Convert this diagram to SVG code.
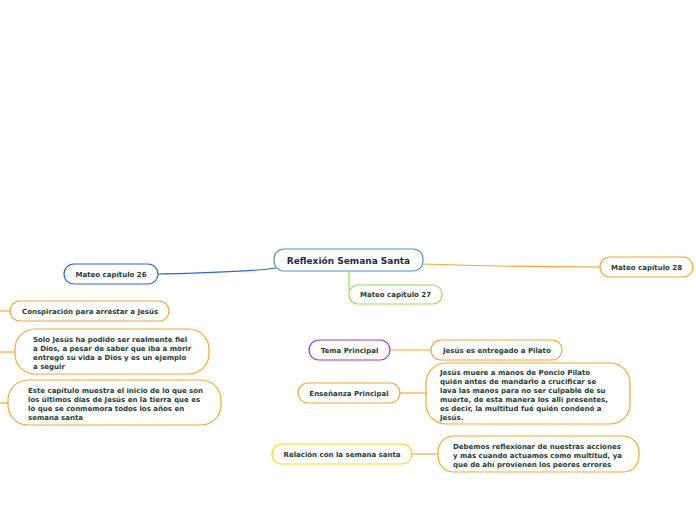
<svg xmlns="http://www.w3.org/2000/svg" width="696" height="520" viewBox="0 0 696 520">
<style>
rect{fill:#fff;stroke-width:1.2}
text{font-family:"DejaVu Sans",Verdana,sans-serif;font-weight:bold;font-size:7px;fill:#1d3d32}
.c{text-anchor:middle}
.t{font-size:9px;fill:#1b2a4a}
.o{stroke:#f8a62a}
.l{fill:none;stroke-width:1.2}
</style>
<rect width="696" height="520" fill="#fff" style="stroke:none"/>
<g id="connectors" fill="none">
<path class="l" d="M158,274 C200,273 250,272 276,268" stroke="#2363f2"/>
<path class="l" d="M423,264 C480,266 540,267 600,267" stroke="#f8a62a"/>
<path class="l" d="M349,271 L349,288 Q349,294 355,294" stroke="#8be63a"/>
<path class="l" d="M0,311 L10,311" stroke="#f8a62a"/>
<path class="l" d="M0,352 L15,352" stroke="#f8a62a"/>
<path class="l" d="M0,403 L8,403" stroke="#f8a62a"/>
<path class="l" d="M390,350 L431,350" stroke="#f8a62a"/>
<path class="l" d="M400,393 L426,393" stroke="#f8a62a"/>
<path class="l" d="M412,454 L438,454" stroke="#f8a62a"/>
</g>
<g id="root"><rect x="274" y="249" width="149" height="22" rx="10" stroke="#4a90d9"/><text class="c t" x="348.5" y="263.5">Reflexión Semana Santa</text></g>
<g id="m26"><rect x="64" y="264" width="94" height="20" rx="10" stroke="#2363f2"/><text class="c" x="111" y="276.5">Mateo capítulo 26</text></g>
<g id="m28"><rect x="600" y="257" width="93" height="20" rx="10" class="o"/><text class="c" x="646.5" y="269.5">Mateo capítulo 28</text></g>
<g id="m27"><rect x="349" y="285" width="93" height="19" rx="9" stroke="#8be63a"/><text class="c" x="395.5" y="297">Mateo capítulo 27</text></g>
<g id="consp"><rect x="10" y="301" width="159" height="20" rx="10" class="o"/><text x="22" y="313.5">Conspiración para arrestar a Jesús</text></g>
<g id="solo"><rect x="15" y="329" width="194" height="45" rx="20" class="o"/><text x="33" y="342">Solo Jesús ha podido ser realmente fiel</text><text x="33" y="351">a Dios, a pesar de saber que iba a morir</text><text x="33" y="360">entregó su vida a Dios y es un ejemplo</text><text x="33" y="369">a seguir</text></g>
<g id="este"><rect x="8" y="380" width="213" height="45" rx="20" class="o"/><text x="28" y="393">Este capítulo muestra el inicio de lo que son</text><text x="28" y="402">los últimos días de Jesús en la tierra que es</text><text x="28" y="411">lo que se conmemora todos los años en</text><text x="28" y="419.5">semana santa</text></g>
<g id="tema"><rect x="309" y="340" width="81" height="20" rx="10" stroke="#9b30f2"/><text class="c" x="349.5" y="352.5">Tema Principal</text></g>
<g id="entregado"><rect x="431" y="340" width="131" height="20" rx="10" class="o"/><text x="443" y="352.5">Jesús es entregado a Pilato</text></g>
<g id="ensenanza"><rect x="298" y="383" width="102" height="20" rx="10" class="o"/><text class="c" x="349" y="395.5">Enseñanza Principal</text></g>
<g id="muere"><rect x="426" y="363" width="204" height="61" rx="20" class="o"/><text x="440" y="375">Jesús muere a manos de Poncio Pilato</text><text x="440" y="384">quién antes de mandarlo a crucificar se</text><text x="440" y="393">lava las manos para no ser culpable de su</text><text x="440" y="402">muerte, de esta manera los allí presentes,</text><text x="440" y="411">es decir, la multitud fué quién condenó a</text><text x="440" y="419.5">Jesús.</text></g>
<g id="relacion"><rect x="272" y="444" width="140" height="20" rx="10" stroke="#f0e000"/><text class="c" x="342" y="456.5">Relación con la semana santa</text></g>
<g id="debemos"><rect x="438" y="436" width="201" height="36" rx="16" class="o"/><text x="453" y="449">Debemos reflexionar de nuestras acciones</text><text x="453" y="458">y más cuando actuamos como multitud, ya</text><text x="453" y="467">que de ahí provienen los peores errores</text></g>
</svg>
